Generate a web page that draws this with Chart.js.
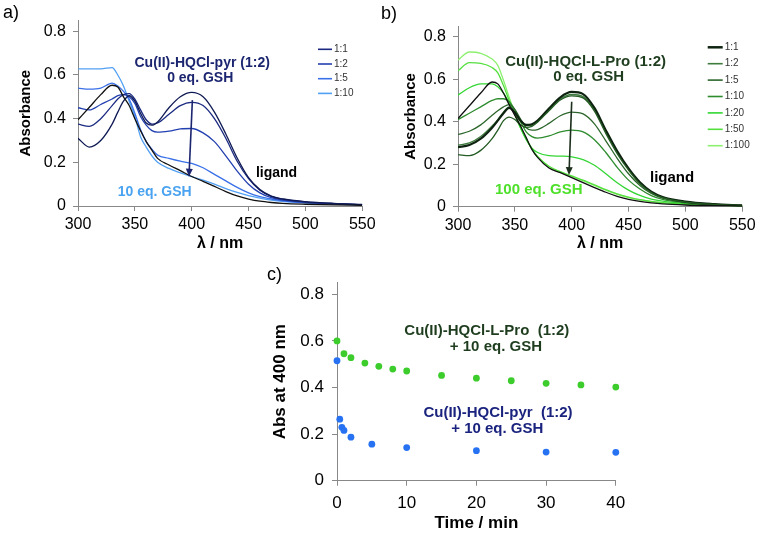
<!DOCTYPE html>
<html>
<head>
<meta charset="utf-8">
<script src="https://cdn.jsdelivr.net/npm/chart.js@4.4.1/dist/chart.umd.min.js"></script>
<style>
  body { margin: 0; background: #fff; }
  #wrap { position: relative; width: 760px; height: 534px; overflow: hidden; }
  canvas { position: absolute; }
</style>
</head>
<body>
<div id="wrap">
  <canvas id="chartA" width="380" height="253" style="left:0;top:0"></canvas>
  <canvas id="chartB" width="380" height="253" style="left:380px;top:0"></canvas>
  <canvas id="chartC" width="480" height="284" style="left:190px;top:250px"></canvas>
</div>
<script>
// wavelengths (nm) shared by spectra a) and b)
const wavelengths = [300, 310, 320, 330, 335, 340, 345, 350, 355, 360, 365, 370, 380, 390, 400, 410, 420, 430, 440, 450, 460, 470, 480, 500, 525, 550];

// a) Cu(II)-HQCl-pyr (1:2) + GSH
const pyrLigand = [0.395, 0.452, 0.51, 0.553, 0.545, 0.5, 0.46, 0.4, 0.345, 0.295, 0.256, 0.218, 0.188, 0.162, 0.135, 0.113, 0.09, 0.066, 0.046, 0.032, 0.022, 0.016, 0.012, 0.008, 0.005, 0.003];
const pyr0 = [0.31, 0.27, 0.3, 0.375, 0.43, 0.48, 0.505, 0.48, 0.425, 0.38, 0.37, 0.385, 0.45, 0.5, 0.52, 0.5, 0.43, 0.33, 0.22, 0.13, 0.075, 0.045, 0.032, 0.02, 0.012, 0.007];
const pyr1 = [0.375, 0.365, 0.4, 0.46, 0.49, 0.51, 0.515, 0.49, 0.44, 0.395, 0.375, 0.38, 0.42, 0.46, 0.475, 0.46, 0.4, 0.31, 0.205, 0.125, 0.072, 0.044, 0.031, 0.019, 0.011, 0.006];
const pyr2 = [0.45, 0.44, 0.465, 0.49, 0.505, 0.51, 0.5, 0.47, 0.41, 0.37, 0.345, 0.338, 0.343, 0.353, 0.355, 0.335, 0.295, 0.23, 0.16, 0.1, 0.06, 0.038, 0.027, 0.017, 0.01, 0.006];
const pyr5 = [0.54, 0.535, 0.54, 0.563, 0.55, 0.525, 0.49, 0.425, 0.35, 0.295, 0.26, 0.233, 0.218, 0.205, 0.195, 0.175, 0.145, 0.115, 0.085, 0.06, 0.043, 0.032, 0.024, 0.015, 0.009, 0.005];
const pyr10 = [0.628, 0.628, 0.628, 0.634, 0.6, 0.55, 0.48, 0.41, 0.317, 0.27, 0.23, 0.2, 0.172, 0.152, 0.135, 0.118, 0.1, 0.08, 0.062, 0.047, 0.036, 0.027, 0.021, 0.014, 0.009, 0.005];

// b) Cu(II)-HQCl-L-Pro (1:2) + GSH
const proLigand = [0.415, 0.475, 0.535, 0.587, 0.578, 0.535, 0.48, 0.43, 0.38, 0.325, 0.27, 0.232, 0.182, 0.16, 0.137, 0.113, 0.09, 0.068, 0.049, 0.035, 0.025, 0.018, 0.013, 0.008, 0.005, 0.003];
const pro0 = [0.245, 0.24, 0.265, 0.32, 0.36, 0.405, 0.422, 0.41, 0.385, 0.373, 0.378, 0.398, 0.452, 0.502, 0.522, 0.512, 0.45, 0.345, 0.25, 0.172, 0.108, 0.067, 0.043, 0.022, 0.011, 0.006];
const pro1 = [0.28, 0.29, 0.32, 0.372, 0.405, 0.44, 0.465, 0.443, 0.405, 0.385, 0.388, 0.405, 0.462, 0.515, 0.54, 0.53, 0.465, 0.36, 0.262, 0.18, 0.115, 0.071, 0.046, 0.024, 0.012, 0.006];
const pro2 = [0.29, 0.3, 0.33, 0.38, 0.41, 0.445, 0.47, 0.445, 0.405, 0.382, 0.383, 0.4, 0.455, 0.507, 0.528, 0.518, 0.455, 0.352, 0.256, 0.176, 0.11, 0.068, 0.044, 0.023, 0.012, 0.006];
const pro5 = [0.34, 0.355, 0.385, 0.43, 0.452, 0.47, 0.48, 0.458, 0.412, 0.372, 0.36, 0.363, 0.392, 0.428, 0.445, 0.437, 0.39, 0.31, 0.228, 0.155, 0.1, 0.062, 0.04, 0.021, 0.011, 0.006];
const pro10 = [0.41, 0.44, 0.47, 0.5, 0.508, 0.508, 0.495, 0.455, 0.4, 0.352, 0.33, 0.323, 0.333, 0.352, 0.36, 0.352, 0.315, 0.255, 0.185, 0.125, 0.083, 0.052, 0.034, 0.018, 0.01, 0.005];
const pro20 = [0.525, 0.56, 0.578, 0.578, 0.565, 0.535, 0.49, 0.435, 0.37, 0.315, 0.275, 0.255, 0.24, 0.238, 0.235, 0.222, 0.195, 0.155, 0.113, 0.078, 0.053, 0.036, 0.026, 0.015, 0.009, 0.005];
const pro50 = [0.64, 0.678, 0.675, 0.655, 0.63, 0.57, 0.5, 0.435, 0.372, 0.32, 0.272, 0.236, 0.19, 0.165, 0.145, 0.125, 0.103, 0.08, 0.06, 0.045, 0.033, 0.025, 0.019, 0.012, 0.007, 0.004];
const pro100 = [0.69, 0.728, 0.722, 0.695, 0.665, 0.595, 0.515, 0.44, 0.375, 0.322, 0.272, 0.235, 0.188, 0.162, 0.142, 0.122, 0.1, 0.078, 0.058, 0.043, 0.032, 0.024, 0.018, 0.012, 0.007, 0.004];

// c) absorbance at 400 nm versus time
const proTime = [0, 1, 2, 4, 6, 8, 10, 15, 20, 25, 30, 35, 40];
const proAbs = [0.6, 0.545, 0.528, 0.505, 0.491, 0.479, 0.471, 0.452, 0.44, 0.429, 0.418, 0.411, 0.402];
const pyrTime = [0, 0.4, 0.7, 1, 2, 5, 10, 20, 30, 40];
const pyrAbs = [0.515, 0.264, 0.229, 0.216, 0.187, 0.157, 0.142, 0.129, 0.123, 0.122];

// tick labels
const wlTicks = [300, 350, 400, 450, 500, 550];
const absTicks = [0, 0.2, 0.4, 0.6, 0.8];
const absTickLabels = ['0', '0.2', '0.4', '0.6', '0.8'];
const timeTicks = [0, 10, 20, 30, 40];

Chart.defaults.font.family = "'Liberation Sans', Arial, sans-serif";
Chart.defaults.color = '#000';

const AXIS = '#888';

// text, arrow, legend and panel letter drawn on top of each chart
const extras = {
    id: 'extras',
    afterDraw(chart, args, o) {
        const ctx = chart.ctx;
        const xs = chart.scales.x, ys = chart.scales.y;
        ctx.save();
        ctx.textBaseline = 'middle';

        // panel letter
        if (o.panel) {
            ctx.font = "18px 'Liberation Sans', Arial, sans-serif";
            ctx.fillStyle = '#000';
            ctx.textAlign = 'left';
            ctx.fillText(o.panel.text, o.panel.x, o.panel.y);
        }

        // annotations, placed in data units
        (o.texts || []).forEach(t => {
            ctx.font = t.font;
            ctx.fillStyle = t.color;
            ctx.textAlign = 'center';
            ctx.fillText(t.text, xs.getPixelForValue(t.x), ys.getPixelForValue(t.y));
        });

        // arrow
        if (o.arrow) {
            const a = o.arrow;
            const x1 = xs.getPixelForValue(a.from[0]), y1 = ys.getPixelForValue(a.from[1]);
            const x2 = xs.getPixelForValue(a.to[0]), y2 = ys.getPixelForValue(a.to[1]);
            const ang = Math.atan2(y2 - y1, x2 - x1);
            ctx.strokeStyle = a.color;
            ctx.fillStyle = a.color;
            ctx.lineWidth = 1.6;
            ctx.beginPath();
            ctx.moveTo(x1, y1);
            ctx.lineTo(x2 - 5 * Math.cos(ang), y2 - 5 * Math.sin(ang));
            ctx.stroke();
            ctx.beginPath();
            ctx.moveTo(x2, y2);
            ctx.lineTo(x2 - 8 * Math.cos(ang) + 3.5 * Math.sin(ang), y2 - 8 * Math.sin(ang) - 3.5 * Math.cos(ang));
            ctx.lineTo(x2 - 8 * Math.cos(ang) - 3.5 * Math.sin(ang), y2 - 8 * Math.sin(ang) + 3.5 * Math.cos(ang));
            ctx.closePath();
            ctx.fill();
        }

        // small legend
        if (o.legend) {
            const lg = o.legend;
            ctx.font = "10px 'Liberation Sans', Arial, sans-serif";
            ctx.textAlign = 'left';
            const shown = chart.data.datasets.filter(d => lg.labels.includes(d.label));
            shown.forEach((d, i) => {
                const y = lg.y + i * lg.dy;
                ctx.strokeStyle = d.borderColor;
                ctx.lineWidth = d.borderWidth + 0.3;
                ctx.beginPath();
                ctx.moveTo(lg.x, y);
                ctx.lineTo(lg.x + lg.len, y);
                ctx.stroke();
                ctx.fillStyle = '#333';
                ctx.fillText(d.label, lg.x + lg.len + 2, y);
            });
        }
        ctx.restore();
    }
};

function toPoints(xv, yv) {
    return xv.map((x, i) => ({ x: x, y: yv[i] }));
}

function spectrum(label, values, color, width) {
    return {
        label: label,
        data: toPoints(wavelengths, values),
        borderColor: color,
        backgroundColor: color,
        borderWidth: width || 1.3,
        pointRadius: 0,
        cubicInterpolationMode: 'monotone',
        fill: false
    };
}

function axes(cfg) {
    return {
        x: {
            type: 'linear',
            min: cfg.xTicks[0],
            max: cfg.xTicks[cfg.xTicks.length - 1],
            afterBuildTicks: s => { s.ticks = cfg.xTicks.map(v => ({ value: v })); },
            afterFit: s => { s.height = cfg.xHeight; },
            ticks: { font: { size: cfg.tickSize }, color: '#000', padding: cfg.xPad, maxRotation: 0, autoSkip: false },
            grid: { drawOnChartArea: false, drawTicks: true, tickLength: 5, color: AXIS },
            border: { color: AXIS },
            title: { display: true, text: cfg.xTitle, color: '#000', font: { size: cfg.titleSize, weight: 'bold' }, padding: 0 }
        },
        y: {
            type: 'linear',
            min: 0,
            max: 0.85,
            afterBuildTicks: s => { s.ticks = absTicks.map(v => ({ value: v })); },
            afterFit: s => { s.width = cfg.yWidth; },
            ticks: { font: { size: cfg.tickSize }, color: '#000', padding: cfg.yPad, callback: (v, i) => absTickLabels[i] },
            grid: { drawOnChartArea: false, drawTicks: true, tickLength: 5, color: AXIS },
            border: { color: AXIS },
            title: { display: true, text: cfg.yTitle, color: '#000', font: { size: cfg.yTitleSize, weight: 'bold' }, padding: { top: cfg.yTitleOffset, bottom: 0 } }
        }
    };
}

const boldFont = s => "bold " + s + "px 'Liberation Sans', Arial, sans-serif";

// a)
new Chart(document.getElementById('chartA'), {
    type: 'line',
    data: {
        datasets: [
            spectrum('ligand', pyrLigand, '#111111'),
            spectrum('0 eq.', pyr0, '#0f1a55'),
            spectrum('1:1', pyr1, '#1b2a80'),
            spectrum('1:2', pyr2, '#2340b0'),
            spectrum('1:5', pyr5, '#3a70e8'),
            spectrum('1:10', pyr10, '#52a0f4')
        ]
    },
    options: {
        responsive: false,
        animation: false,
        layout: { padding: { top: 20.4, right: 17, left: 0, bottom: 0 } },
        scales: axes({ xTicks: wlTicks, xHeight: 47, xPad: 4.4, yWidth: 78, yPad: 7, tickSize: 16, titleSize: 16, yTitleSize: 15,
                       xTitle: 'λ / nm', yTitle: 'Absorbance', yTitleOffset: 17 }),
        plugins: {
            legend: { display: false },
            tooltip: { enabled: false },
            extras: {
                panel: { text: 'a)', x: 3, y: 13 },
                texts: [
                    { text: 'Cu(II)-HQCl-pyr (1:2)', x: 409.2, y: 0.653, color: '#1c2670', font: boldFont(14) },
                    { text: '0 eq. GSH', x: 407.5, y: 0.585, color: '#1c2670', font: boldFont(14) },
                    { text: 'ligand', x: 474.6, y: 0.152, color: '#000', font: boldFont(14) },
                    { text: '10 eq. GSH', x: 367.5, y: 0.065, color: '#4aa3f0', font: boldFont(14) }
                ],
                arrow: { from: [400.6, 0.485], to: [397.6, 0.134], color: '#1c2670' },
                legend: { labels: ['1:1', '1:2', '1:5', '1:10'], x: 318, y: 49.3, dy: 14.7, len: 14 }
            }
        }
    },
    plugins: [extras]
});

// b)
new Chart(document.getElementById('chartB'), {
    type: 'line',
    data: {
        datasets: [
            spectrum('ligand', proLigand, '#111111'),
            spectrum('0 eq.', pro0, '#245c24'),
            spectrum('1:1', pro1, '#0e2410', 2.2),
            spectrum('1:2', pro2, '#3e7c3e'),
            spectrum('1:5', pro5, '#2c662c'),
            spectrum('1:10', pro10, '#2e8c2e'),
            spectrum('1:20', pro20, '#33d633'),
            spectrum('1:50', pro50, '#55e040'),
            spectrum('1:100', pro100, '#8ef070')
        ]
    },
    options: {
        responsive: false,
        animation: false,
        layout: { padding: { top: 26.1, right: 17, left: 0, bottom: 0 } },
        scales: axes({ xTicks: wlTicks, xHeight: 46.3, xPad: 4.4, yWidth: 78, yPad: 7, tickSize: 16, titleSize: 16, yTitleSize: 15,
                       xTitle: 'λ / nm', yTitle: 'Absorbance', yTitleOffset: 21.5 }),
        plugins: {
            legend: { display: false },
            tooltip: { enabled: false },
            extras: {
                panel: { text: 'b)', x: 1, y: 14 },
                texts: [
                    { text: 'Cu(II)-HQCl-L-Pro (1:2)', x: 412.3, y: 0.682, color: '#1f3d1f', font: boldFont(15) },
                    { text: '0 eq. GSH', x: 414.9, y: 0.609, color: '#1f3d1f', font: boldFont(15) },
                    { text: 'ligand', x: 488.3, y: 0.134, color: '#000', font: boldFont(15) },
                    { text: '100 eq. GSH', x: 371, y: 0.079, color: '#4ee02a', font: boldFont(15) }
                ],
                arrow: { from: [400, 0.494], to: [397.6, 0.149], color: '#1c2e1c' },
                legend: { labels: ['1:1', '1:2', '1:5', '1:10', '1:20', '1:50', '1:100'], x: 327.7, y: 47.3, dy: 16.4, len: 15 }
            }
        }
    },
    plugins: [extras]
});

// c)
new Chart(document.getElementById('chartC'), {
    type: 'scatter',
    data: {
        datasets: [
            { label: 'Cu(II)-HQCl-L-Pro', data: toPoints(proTime, proAbs), backgroundColor: '#3ccc2c', borderWidth: 0, pointRadius: 3.4, clip: false },
            { label: 'Cu(II)-HQCl-pyr', data: toPoints(pyrTime, pyrAbs), backgroundColor: '#2672f2', borderWidth: 0, pointRadius: 3.4, clip: false }
        ]
    },
    options: {
        responsive: false,
        animation: false,
        layout: { padding: { top: 32.7, right: 54.2, left: 0, bottom: 0 } },
        scales: axes({ xTicks: timeTicks, xHeight: 53.3, xPad: 7, yWidth: 147, yPad: 8, tickSize: 17, titleSize: 17, yTitleSize: 17,
                       xTitle: 'Time / min', yTitle: 'Abs at 400 nm', yTitleOffset: 79.8 }),
        plugins: {
            legend: { display: false },
            tooltip: { enabled: false },
            extras: {
                panel: { text: 'c)', x: 77, y: 25 },
                texts: [
                    { text: 'Cu(II)-HQCl-L-Pro  (1:2)', x: 21.5, y: 0.642, color: '#1e3d1e', font: boldFont(15) },
                    { text: '+ 10 eq. GSH', x: 22.8, y: 0.574, color: '#1e3d1e', font: boldFont(15) },
                    { text: 'Cu(II)-HQCl-pyr  (1:2)', x: 23.1, y: 0.29, color: '#1a237e', font: boldFont(15) },
                    { text: '+ 10 eq. GSH', x: 23, y: 0.222, color: '#1a237e', font: boldFont(15) }
                ]
            }
        }
    },
    plugins: [extras]
});
</script>
</body>
</html>
